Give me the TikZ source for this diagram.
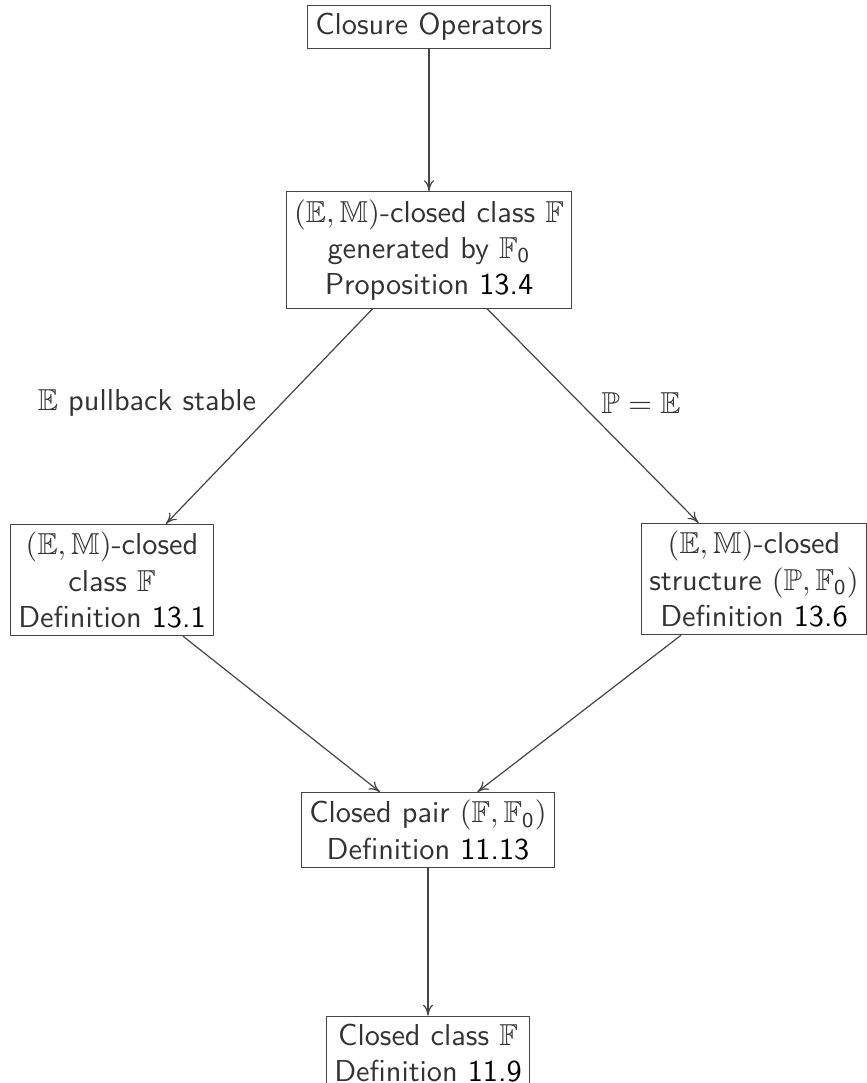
\documentclass[tikz,border=0pt]{standalone}
\usepackage{amssymb}
\usetikzlibrary{arrows.meta}
\renewcommand{\familydefault}{\sfdefault}
\definecolor{textcol}{rgb}{0.200000, 0.200000, 0.200000}
\definecolor{linecol}{rgb}{0.270000, 0.270000, 0.270000}
\newcommand{\refno}[1]{\textcolor{black}{#1}}
\newcommand{\Fzero}{\mathbb{F}_{\mathsf{0}}}
\newlength{\du}
\setlength{\du}{0.33pt}

\begin{document}
\begin{tikzpicture}
\pgftransformxscale{1.000000}
\pgftransformyscale{-1.000000}
\tikzset{
  box/.style={draw=linecol, text=textcol, align=center, inner sep=2.5pt},
  lbl/.style={text=textcol},
  link/.style={draw=linecol, -{To[length=3.6pt,width=3.4pt]}}
}
\useasboundingbox (0\du,0\du) rectangle (867\du,1083\du);
% boxes
\node[box] (closop) at (429\du,27\du) {Closure Operators};
\node[box] (emgen) at (429\du,250\du) {$(\mathbb{E},\mathbb{M})$-closed class $\mathbb{F}$\\generated by $\Fzero$\\Proposition \refno{13.4}};
\node[box] (emclass) at (112\du,580\du) {$(\mathbb{E},\mathbb{M})$-closed\\class $\mathbb{F}$\\Definition \refno{13.1}};
\node[box] (emstruct) at (754\du,579\du) {$(\mathbb{E},\mathbb{M})$-closed\\structure $(\mathbb{P},\Fzero)$\\Definition \refno{13.6}};
\node[box] (clpair) at (428\du,830\du) {Closed pair $(\mathbb{F},\Fzero)$\\Definition \refno{11.13}};
\node[box] (clclass) at (428\du,1053\du) {Closed class $\mathbb{F}$\\Definition \refno{11.9}};
% labels
\node[lbl] (pbstable) at (147\du,403\du) {$\mathbb{E}$ pullback stable};
\node[lbl] (peqe) at (641\du,403\du) {$\mathbb{P}=\mathbb{E}$};
% arrows
\draw[link] (closop) -- (emgen);
\draw[link] (emgen) -- (emclass);
\draw[link] (emgen) -- (emstruct);
\draw[link] (emclass) -- (clpair);
\draw[link] (emstruct) -- (clpair);
\draw[link] (clpair) -- (clclass);
\end{tikzpicture}
\end{document}
